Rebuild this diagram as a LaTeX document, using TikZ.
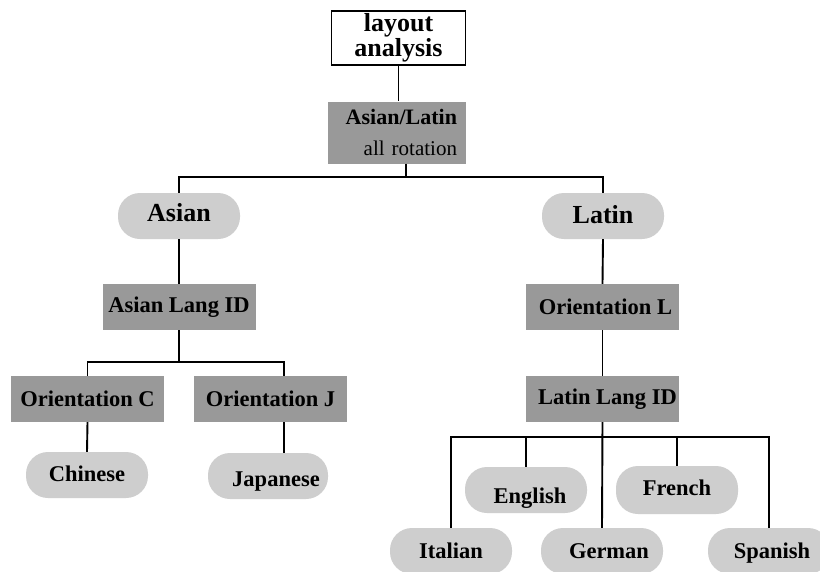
\documentclass[tikz,border=0pt]{standalone}
\usepackage{fontspec}
\setmainfont{Liberation Serif}
\definecolor{boxgray}{RGB}{153,153,153}
\definecolor{pillgray}{RGB}{206,206,206}
\begin{document}
\begin{tikzpicture}[x=1pt,y=-1pt,
  conn/.style={draw=black,line width=1.9pt},
  stepbox/.style={rectangle,fill=boxgray,minimum width=153pt,minimum height=46pt,inner sep=0pt,font=\fontsize{22.5}{24}\selectfont\bfseries},
  pill/.style={rectangle,rounded corners=22pt,fill=pillgray,minimum width=122pt,minimum height=46pt,inner sep=0pt,text height=18.5pt,text depth=3pt,font=\fontsize{22.5}{24}\selectfont\bfseries},
  bigpill/.style={pill,font=\fontsize{26}{28}\selectfont\bfseries}]
\useasboundingbox (0,0) rectangle (820,571);
\clip (0,0) rectangle (820,571);
\fill[white] (0,0) rectangle (820,571);
% top
\node[draw=black,line width=1.9pt,fill=white,minimum width=134pt,minimum height=54pt,inner sep=0pt,align=center,font=\fontsize{26}{20}\selectfont\bfseries] (layout) at (398.5,38) {layout\\analysis};
\node[rectangle,fill=boxgray,minimum width=138pt,minimum height=62pt,inner sep=0pt,text width=120pt,align=right,font=\fontsize{21}{29}\selectfont] (al) at (397,132.5)
  {{\fontsize{22}{29}\selectfont\bfseries Asian/Latin}\\[-1pt]\raisebox{-3pt}{all rotation}};
\coordinate (jt) at (406,177);
% Asian branch
\node[bigpill] (asian) at (179,216) {\raisebox{2pt}{Asian}};
\node[stepbox] (asianid) at (179,307) {Asian Lang ID};
\coordinate (ja) at (179,362);
\coordinate (jj) at (284,362);
\node[stepbox] (oric) at (87.5,399) {Orientation C};
\node[stepbox] (orij) at (270.5,399) {Orientation J};
\node[pill] (chinese) at (87,475) {\raisebox{1pt}{Chinese}};
\node[pill,minimum width=120pt] (japanese) at (268,476) {\raisebox{-3pt}{\hspace*{16pt}Japanese}};
% Latin branch
\node[bigpill] (latin) at (603,216) {Latin};
\node[stepbox] (oril) at (602.5,307) {\hspace*{6pt}Orientation L};
\node[stepbox] (latid) at (602.5,399) {\hspace*{10pt}Latin Lang ID};
\coordinate (jl) at (602,437);
\node[pill] (english) at (526,490) {\raisebox{-6pt}{\hspace*{8pt}English}};
\node[pill,minimum height=48pt] (french) at (677,490) {\raisebox{2pt}{French}};
\node[pill] (italian) at (451,551) {Italian};
\node[pill] (german) at (602,551) {\hspace*{14pt}German};
\node[pill] (spanish) at (769,551) {\hspace*{6pt}Spanish};
% connectors
\draw[conn] (layout.south) -- (layout.south |- al.north);
\draw[conn] (al.south -| jt) -- (jt);
\draw[conn] (asian.north) |- (jt) -| (latin.north);
\draw[conn] (asian.south) -- (asianid.north);
\draw[conn] (asianid.south) -- (ja);
\draw[conn] (oric.north) |- (jj) -- (jj |- orij.north);
\draw[conn] (oric.south) -- (chinese.north);
\draw[conn] (jj |- orij.south) -- (jj |- japanese.north);
\draw[conn] (latin.south) -- (oril.north);
\draw[conn] (oril.south) -- (latid.north);
\draw[conn] (latid.south) -- (german.north);
\draw[conn] (italian.north) |- (jl) -| (spanish.north);
\draw[conn] (english.north) -- (english.north |- jl);
\draw[conn] (french.north) -- (french.north |- jl);
\end{tikzpicture}
\end{document}
